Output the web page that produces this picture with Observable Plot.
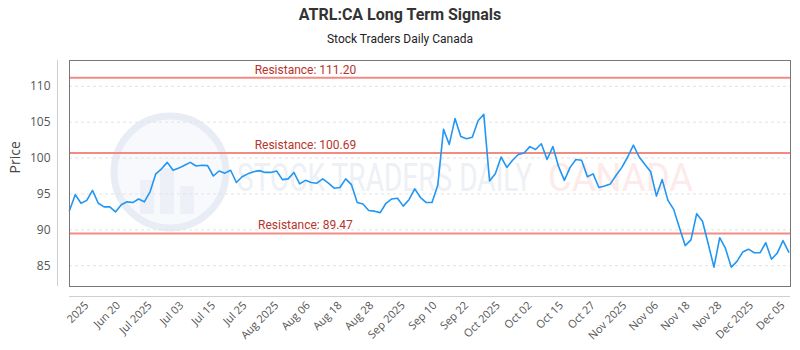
<!DOCTYPE html>
<html>
<head>
<meta charset="utf-8">
<script src="https://cdn.jsdelivr.net/npm/d3@7"></script>
<script src="https://cdn.jsdelivr.net/npm/@observablehq/plot@0.6"></script>
<style>
  body { margin: 0; background: #fff; }
  #wrap { position: relative; width: 800px; height: 350px; overflow: hidden; }
  #title { position: absolute; top: 5px; left: 0; width: 800px; text-align: center;
           font: bold 16px Roboto, sans-serif; color: #333; }
  #sub { position: absolute; top: 32px; left: 0; width: 800px; text-align: center;
         font: 12px Roboto, sans-serif; color: #222; }
  #wm { position: absolute; top: 0; left: 0; z-index: 0; }
  #chart { position: absolute; top: 50px; left: 0; z-index: 1; }
</style>
</head>
<body>
<div id="wrap">
  <div id="title">ATRL:CA Long Term Signals</div>
  <div id="sub">Stock Traders Daily Canada</div>
  <svg id="wm" width="800" height="350">
    <circle cx="170" cy="172" r="56" fill="#f7f9fc" stroke="#e8edf5" stroke-width="7"></circle>
    <rect x="140" y="180" width="14" height="34" fill="#edf1f7"></rect>
    <rect x="160" y="168" width="14" height="46" fill="#edf1f7"></rect>
    <rect x="180" y="186" width="14" height="28" fill="#edf1f7"></rect>
    <text transform="translate(237,191) scale(1,1.45)" font-family="Roboto" font-size="27" fill="#edf0f5" textLength="295" lengthAdjust="spacingAndGlyphs">STOCK TRADERS DAILY</text>
    <text transform="translate(548,191) scale(1,1.45)" font-family="Roboto" font-size="27" fill="#fdeaea" textLength="145" lengthAdjust="spacingAndGlyphs">CANADA</text>
  </svg>
  <div id="chart"></div>
</div>
<script>
// Closing prices (trading-day index order)
const close = [
  92.7, 94.9, 93.7, 94.1, 95.5, 93.7, 93.2, 93.2, 92.5, 93.5,
  93.9, 93.8, 94.3, 93.9, 95.3, 97.8, 98.5, 99.4, 98.3, 98.6,
  99.0, 99.4, 98.9, 99.0, 98.95, 97.5, 98.2, 97.9, 98.3, 96.6,
  97.4, 97.8, 98.1, 98.25, 98.0, 98.0, 98.2, 97.0, 97.1, 98.0,
  96.4, 96.9, 96.6, 96.5, 97.1, 96.5, 95.8, 95.9, 97.1, 96.3,
  93.8, 93.6, 92.7, 92.6, 92.4, 93.7, 94.3, 94.4, 93.3, 94.2,
  95.7, 94.5, 93.8, 93.8, 96.2, 104.0, 101.9, 105.5, 103.0, 102.7,
  102.9, 105.2, 106.1, 96.8, 97.8, 100.15, 98.7, 99.7, 100.5, 100.7,
  101.6, 101.2, 102.0, 99.8, 101.6, 98.8, 96.9, 98.7, 99.8, 99.7,
  97.4, 97.8, 95.9, 96.1, 96.4, 97.6, 98.7, 100.15, 101.8, 100.15,
  99.1, 98.1, 94.7, 97.0, 94.1, 92.85, 90.3, 87.8, 88.6, 92.25,
  91.2, 88.05, 84.8, 88.9, 87.4, 84.8, 85.6, 86.9, 87.3, 86.8,
  86.8, 88.2, 85.9, 86.75, 88.5, 86.9
];
const tickLabels = ["2025", "Jun 20", "Jul 2025", "Jul 03", "Jul 15", "Jul 25", "Aug 2025",
  "Aug 06", "Aug 18", "Aug 28", "Sep 2025", "Sep 10", "Sep 22", "Oct 2025", "Oct 02",
  "Oct 15", "Oct 27", "Nov 2025", "Nov 06", "Nov 18", "Nov 28", "Dec 2025", "Dec 05"];
const yTicks = [85, 90, 95, 100, 105, 110];
const resistance = [111.20, 100.69, 89.47];
const yTitle = "Price";

const data = close.map((v, i) => ({i, v}));
const firstTick = 3.0, tickStep = 5.5;
const tickPos = tickLabels.map((_, k) => firstTick + k * tickStep);
const labelMap = new Map(tickPos.map((p, k) => [p, tickLabels[k]]));
const xDomain = [0, 125.3];
const yDomain = [82.1, 113.6];
const resLabelAt = 41;

const chart = Plot.plot({
  width: 800,
  height: 300,
  marginTop: 10,
  marginBottom: 64,
  marginLeft: 69,
  marginRight: 10,
  style: {background: "transparent", fontFamily: "'Open Sans', sans-serif", fontSize: "11px", color: "#555"},
  x: {domain: xDomain},
  y: {domain: yDomain},
  marks: [
    Plot.gridY(yTicks, {stroke: "#e2e2e2", strokeOpacity: 1, strokeDasharray: "3,3"}),
    Plot.ruleY(resistance, {stroke: "#f28b82", strokeWidth: 2}),
    Plot.text(resistance, {x: () => resLabelAt, y: d => d, text: d => `Resistance: ${d.toFixed(2)}`,
      dy: -8, fill: "#b5342b", fontSize: 12, fontFamily: "Roboto, sans-serif"}),
    Plot.line(data, {x: "i", y: "v", stroke: "#2196f3", strokeWidth: 1.6}),
    Plot.frame({stroke: "#777"}),
    Plot.ruleX([xDomain[0]], {dx: -12, stroke: "#cfcfcf"}),
    Plot.ruleY([yDomain[0]], {dy: 10, stroke: "#cfcfcf"}),
    Plot.axisY({ticks: yTicks, tickSize: 0, tickPadding: 19, fontSize: 12, label: null}),
    Plot.text([yTitle], {frameAnchor: "left", text: d => d, rotate: -90, dx: -54,
      fontSize: 14, fill: "#444"}),
    Plot.axisX({ticks: tickPos, tickFormat: d => labelMap.get(d), tickRotate: -45,
      tickSize: 0, tickPadding: 17, label: null})
  ]
});
document.getElementById("chart").appendChild(chart);
</script>
</body>
</html>
